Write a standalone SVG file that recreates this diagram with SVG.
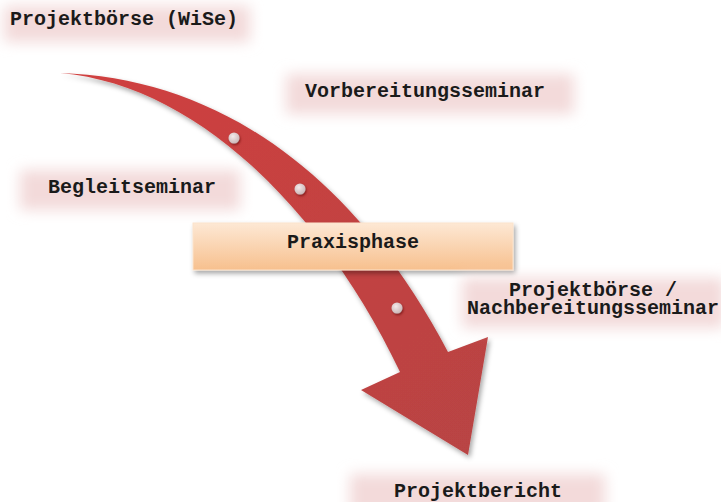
<svg xmlns="http://www.w3.org/2000/svg" width="721" height="502" viewBox="0 0 721 502">
<style>
  .lbl { font-family: "Liberation Mono", "Courier New", monospace; font-weight: bold; font-size: 20px; fill: #1a1a1a; }
  .glow { fill: #f3dada; filter: url(#soft); }
</style>
<defs>
  <filter id="soft" x="-20%" y="-50%" width="140%" height="200%">
    <feGaussianBlur stdDeviation="7"/>
  </filter>
  <filter id="shadow" x="-10%" y="-10%" width="130%" height="130%">
    <feDropShadow dx="2" dy="3" stdDeviation="2.5" flood-color="#000" flood-opacity="0.35"/>
  </filter>
  <filter id="dotshadow" x="-50%" y="-50%" width="200%" height="200%">
    <feDropShadow dx="1" dy="1.5" stdDeviation="1" flood-color="#5a0000" flood-opacity="0.6"/>
  </filter>
  <linearGradient id="arrowGrad" x1="0" y1="0" x2="1" y2="1">
    <stop offset="0" stop-color="#d0403f"/>
    <stop offset="1" stop-color="#b84444"/>
  </linearGradient>
  <linearGradient id="peach" x1="0" y1="0" x2="0" y2="1">
    <stop offset="0" stop-color="#fde8d4"/>
    <stop offset="1" stop-color="#f7c08e"/>
  </linearGradient>
  <radialGradient id="dotGrad" cx="0.4" cy="0.35" r="0.7">
    <stop offset="0" stop-color="#f4eaea"/>
    <stop offset="1" stop-color="#c9b3b5"/>
  </radialGradient>
</defs>
<rect width="721" height="502" fill="#ffffff"/>

<g id="connectors">
  <path id="arrow" d="M60,73 C220,78 355,175 448,352 L488,337 L468,455 L361,390 L400,372 C325,215 200,85 60,73 Z" fill="url(#arrowGrad)" filter="url(#shadow)"/>
  <circle cx="234" cy="138" r="5.5" fill="url(#dotGrad)" filter="url(#dotshadow)"/>
  <circle cx="300" cy="189" r="5.5" fill="url(#dotGrad)" filter="url(#dotshadow)"/>
  <circle cx="397" cy="308" r="5.5" fill="url(#dotGrad)" filter="url(#dotshadow)"/>
</g>

<g id="n-projektboerse-wise">
  <rect class="glow" x="4" y="6" width="246" height="36"/>
  <text class="lbl" x="10" y="25">Projektbörse (WiSe)</text>
</g>

<g id="n-vorbereitungsseminar">
  <rect class="glow" x="286" y="74" width="288" height="40"/>
  <text class="lbl" x="305" y="97">Vorbereitungsseminar</text>
</g>

<g id="n-begleitseminar">
  <rect class="glow" x="20" y="170" width="220" height="40"/>
  <text class="lbl" x="48" y="193">Begleitseminar</text>
</g>

<g id="n-praxisphase">
  <rect x="193" y="223" width="320" height="47" fill="url(#peach)" stroke="#fbe3cc" stroke-width="1" filter="url(#shadow)"/>
  <text class="lbl" x="353" y="248" text-anchor="middle">Praxisphase</text>
</g>

<g id="n-projektboerse-nachbereitung">
  <rect class="glow" x="462" y="278" width="262" height="50"/>
  <text class="lbl" x="593" y="296" text-anchor="middle">Projektbörse /</text>
  <text class="lbl" x="593" y="314" text-anchor="middle">Nachbereitungsseminar</text>
</g>

<g id="n-projektbericht">
  <rect class="glow" x="350" y="474" width="255" height="40"/>
  <text class="lbl" x="478" y="497" text-anchor="middle">Projektbericht</text>
</g>
</svg>
